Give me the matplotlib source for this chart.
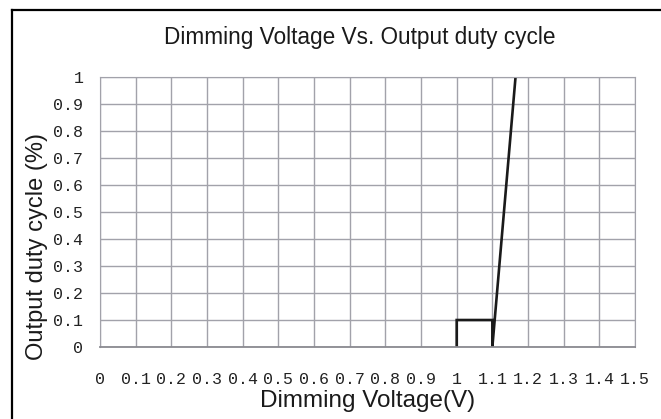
import matplotlib
matplotlib.use("Agg")
import matplotlib.pyplot as plt
from matplotlib.lines import Line2D
import numpy as np

# dimming curve: small step at 1.0-1.1 V, then linear rise to full duty
voltage = [1.0, 1.0, 1.1, 1.1, 1.165]
duty = [0.0, 0.1, 0.1, 0.0, 1.0]

x_ticks = [0, 0.1, 0.2, 0.3, 0.4, 0.5, 0.6, 0.7, 0.8, 0.9, 1, 1.1, 1.2, 1.3, 1.4, 1.5]
x_labels = ["0", "0.1", "0.2", "0.3", "0.4", "0.5", "0.6", "0.7", "0.8", "0.9",
            "1", "1.1", "1.2", "1.3", "1.4", "1.5"]
y_ticks = [0, 0.1, 0.2, 0.3, 0.4, 0.5, 0.6, 0.7, 0.8, 0.9, 1]
y_labels = ["0", "0.1", "0.2", "0.3", "0.4", "0.5", "0.6", "0.7", "0.8", "0.9", "1"]

GRID = "#a2a2aa"
TICK_FONT = "Liberation Mono"
LABEL_FONT = "Liberation Sans"

fig = plt.figure(figsize=(6.61, 4.19), dpi=100)
ax = fig.add_axes([0.1513, 0.1718, 0.8094, 0.6444])

ax.plot(voltage, duty, color="#1a1a1a", lw=1.9, solid_joinstyle="miter")

ax.set_xlim(0, 1.5)
ax.set_ylim(0, 1)
ax.set_xticks(x_ticks)
ax.set_xticklabels(x_labels, fontfamily=TICK_FONT, fontsize=12)
ax.set_yticks(y_ticks)
ax.set_yticklabels(y_labels, fontfamily=TICK_FONT, fontsize=12)
ax.tick_params(axis="both", length=0, colors="#222222")
ax.tick_params(axis="y", pad=12)
ax.tick_params(axis="x", pad=18)

ax.grid(True, color=GRID, lw=1.0)
ax.set_axisbelow(True)
for side in ["top", "right", "left"]:
    ax.spines[side].set_color(GRID)
ax.spines["bottom"].set_color("#8a8a90")
ax.spines["bottom"].set_linewidth(1.3)

ax.set_title("Dimming Voltage Vs. Output duty cycle", fontfamily=LABEL_FONT,
             fontsize=16.3, color="#1a1a1a", pad=24, x=0.486)
ax.set_xlabel("Dimming Voltage(V)", fontfamily=LABEL_FONT, fontsize=17.5,
              color="#1a1a1a", labelpad=2)
ax.set_ylabel("Output duty cycle (%)", fontfamily=LABEL_FONT, fontsize=17,
              color="#1a1a1a")
ax.yaxis.set_label_coords(-0.097, 0.374)

# outer frame, only top and left edges fall inside the image
fig.add_artist(Line2D([0.0175, 0.0175], [-0.1, 0.976], transform=fig.transFigure,
                      color="black", lw=1.6))
fig.add_artist(Line2D([0.0175, 1.1], [0.976, 0.976], transform=fig.transFigure,
                      color="black", lw=1.6))

fig.savefig("out.png", dpi=100)
